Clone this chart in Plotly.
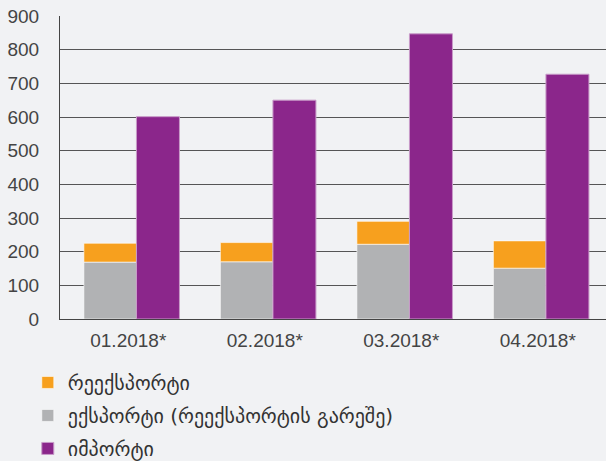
import plotly.graph_objects as go

months = ["01.2018*", "02.2018*", "03.2018*", "04.2018*"]
export_vals = [169, 170, 222, 151]        # ექსპორტი (რეექსპორტის გარეშე)
reexport_vals = [56, 57, 68, 81]          # რეექსპორტი
import_vals = [601, 650, 847, 727]        # იმპორტი

bg = "#F1F2F4"

fig = go.Figure()

fig.add_trace(go.Bar(
    x=months, y=export_vals, name="ექსპორტი (რეექსპორტის გარეშე)",
    marker=dict(color="#B1B2B4", line=dict(color="rgba(255,255,255,0.6)", width=1)),
    offset=-0.325, width=0.385, legendrank=2, legendgroup="b",
))
fig.add_trace(go.Bar(
    x=months, y=reexport_vals, base=export_vals, name="რეექსპორტი",
    marker=dict(color="#F7A01E", line=dict(color="rgba(255,255,255,0.6)", width=1)),
    offset=-0.325, width=0.385, legendrank=1, legendgroup="a",
))
fig.add_trace(go.Bar(
    x=months, y=import_vals, name="იმპორტი",
    marker=dict(color="#8B268B", line=dict(color="#C89BC8", width=1)),
    offset=0.06, width=0.315, legendrank=3, legendgroup="c",
))

fig.update_layout(
    width=606, height=461,
    barmode="overlay",
    paper_bgcolor=bg, plot_bgcolor=bg,
    margin=dict(l=60, r=0, t=16, b=142, autoexpand=False),
    font=dict(family="Liberation Sans, DejaVu Sans", size=19, color="#444"),
    showlegend=True,
    legend=dict(
        x=-0.059, xanchor="left", y=-0.145, yanchor="top",
        orientation="v", traceorder="grouped", tracegroupgap=4,
        font=dict(family="DejaVu Sans", size=20, color="#333"),
        bgcolor="rgba(0,0,0,0)",
    ),
    xaxis=dict(
        showline=True, linecolor="#444", linewidth=1, automargin=False,
        showgrid=False, ticks="", ticklabelstandoff=4,
        tickfont=dict(size=19, color="#444"),
    ),
    yaxis=dict(
        range=[0, 900], dtick=100, showline=True, linecolor="#444", linewidth=1,
        showgrid=True, gridcolor="#555", gridwidth=1, zeroline=False, automargin=False,
        ticks="", ticklabelstandoff=16, tickfont=dict(size=19, color="#444"),
    ),
)

fig.write_html("out.html", config={"displayModeBar": False},
               post_script="document.body.style.margin='0';")
